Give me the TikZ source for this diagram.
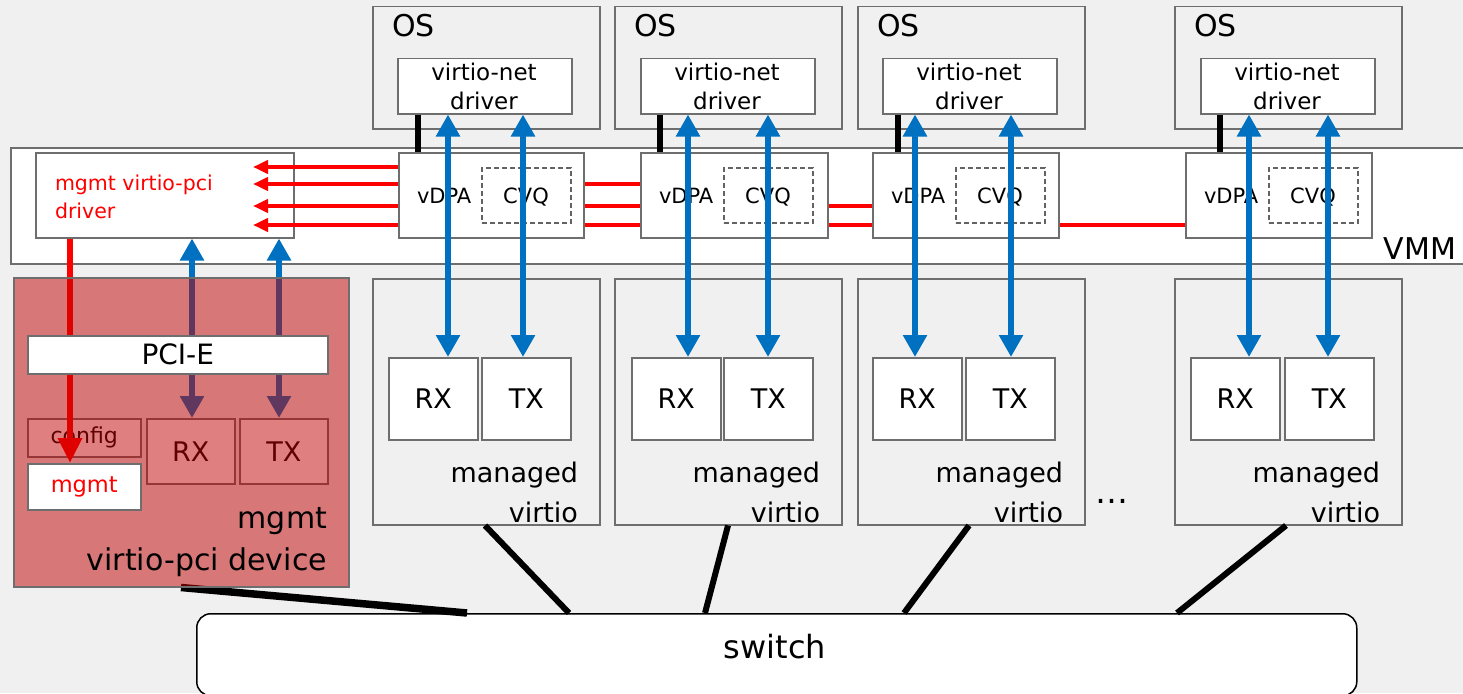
\documentclass[tikz,border=0pt]{standalone}
\usepackage{fontspec}
\setmainfont{DejaVu Sans}
\usetikzlibrary{arrows.meta}

\definecolor{paper}{HTML}{F0F0F0}
\definecolor{frame}{HTML}{6E6E6E}
\definecolor{netblue}{HTML}{0070C0}
\definecolor{ctrlred}{HTML}{FF0000}
\definecolor{devred}{RGB}{192,0,0}

\newcommand\pxfont[1]{\fontsize{#1}{#1}\selectfont}

\pgfdeclarelayer{base}
\pgfdeclarelayer{wires}
\pgfdeclarelayer{veil}
\pgfdeclarelayer{top}
\pgfsetlayers{base,wires,main,veil,top}

\tikzset{
  box/.style={draw=frame, line width=1.5pt, fill=white, inner sep=0pt, anchor=north west},
  graybox/.style={box, fill=paper},
  cvqbox/.style={box, draw=frame!90!black, dash pattern=on 5pt off 3pt, line width=1.5pt},
  txt/.style={inner sep=0pt, outer sep=0pt},
  busarrow/.style={draw=netblue, line width=6.5pt,
    arrows={Triangle[width=23pt,length=22pt]-Triangle[width=23pt,length=22pt]}},
  ctrlwire/.style={draw=ctrlred, line width=4.5pt,
    arrows={-Triangle[width=13pt,length=15pt]}},
  ctrldown/.style={draw=ctrlred, line width=6.5pt,
    arrows={-Triangle[width=23pt,length=25pt]}},
  linkbar/.style={draw=black, line width=6.5pt},
  uplink/.style={draw=black, line width=6pt},
}

\begin{document}
\begin{tikzpicture}[x=1pt,y=-1pt]
\useasboundingbox (0,0) rectangle (1463,693);

\begin{pgfonlayer}{base}
  \fill[paper] (0,0) rectangle (1463,693);
  % hypervisor band
  \node[box, minimum width=1470, minimum height=116] (vmm) at (10,147) {};
  \node[txt, anchor=base east, font=\pxfont{30}] (vmmlbl) at (1456,259) {VMM};
  % management driver inside the VMM
  \node[box, minimum width=258, minimum height=85] (mdrv) at (35,152) {};
  \node[txt, anchor=base west, font=\pxfont{20.5}, text=ctrlred] (mdrva) at (55,190) {mgmt virtio-pci};
  \node[txt, anchor=base west, font=\pxfont{20.5}, text=ctrlred] (mdrvb) at (55,218) {driver};
\end{pgfonlayer}

% guests, vDPA instances and managed virtio devices
\foreach \k/\xo/\xd/\xv/\wv/\xq/\xr/\xt in
  {1/372/397/398/185/481/388/481,
   2/614/640/640/187/723/631/723,
   3/857/882/872/186/955/872/965,
   4/1174/1200/1185/186/1268/1190/1284}{
  \node[graybox, minimum width=227, minimum height=122] (os\k) at (\xo,6) {};
  \node[txt, anchor=base west, font=\pxfont{30}] (osl\k) at (\xo+20,37) {OS};
  \node[box, minimum width=174, minimum height=55] (drv\k) at (\xd,58) {};
  \node[txt, anchor=base, font=\pxfont{23}] (drva\k) at (\xd+87,80) {virtio-net};
  \node[txt, anchor=base, font=\pxfont{23}] (drvb\k) at (\xd+87,109) {driver};
  \node[box, minimum width=\wv, minimum height=85] (vd\k) at (\xv,152) {};
  \node[cvqbox, minimum width=89, minimum height=55] (cq\k) at (\xq,167) {};
  \node[txt, anchor=base west, font=\pxfont{21}] (vdl\k) at (\xv+19,203) {vDPA};
  \node[txt, anchor=base, font=\pxfont{21}] (cql\k) at (\xq+45,203) {CVQ};
  \node[graybox, minimum width=227, minimum height=246] (mv\k) at (\xo,278) {};
  \node[box, minimum width=89, minimum height=82, font=\pxfont{27}] (rx\k) at (\xr,357) {RX};
  \node[box, minimum width=89, minimum height=82, font=\pxfont{27}] (tx\k) at (\xt,357) {TX};
  \node[txt, anchor=base east, font=\pxfont{27}] (mva\k) at (\xo+206,482) {managed};
  \node[txt, anchor=base east, font=\pxfont{27}] (mvb\k) at (\xo+206,522) {virtio};
}
\node[txt, anchor=base, font=\pxfont{33}] (more) at (1112,503) {…};

% switch
\node[box, draw=black, rounded corners=14pt, minimum width=1160, minimum height=82] (sw) at (196,613) {};
\node[txt, font=\pxfont{32}] (swl) at (775,647) {switch};

% control paths from each vDPA into the management driver
\coordinate (tip1) at (253,167);
\coordinate (tip2) at (253,184);
\coordinate (tip3) at (253,206);
\coordinate (tip4) at (253,225);
\begin{pgfonlayer}{wires}
  \draw[ctrlwire] (vd1.west |- tip1) -- (tip1);
  \draw[ctrlwire] (vd2.west |- tip2) -- (tip2);
  \draw[ctrlwire] (vd3.west |- tip3) -- (tip3);
  \draw[ctrlwire] (vd4.west |- tip4) -- (tip4);
\end{pgfonlayer}

% management virtio-pci device
\node[box, minimum width=113, minimum height=38, font=\pxfont{22}] (cfg) at (27,418) {config};
\node[box, minimum width=88, minimum height=65, font=\pxfont{27}] (drx) at (146,418) {RX};
\node[box, minimum width=88, minimum height=65, font=\pxfont{27}] (dtx) at (239,418) {TX};
\begin{pgfonlayer}{veil}
  \node[box, fill=devred, fill opacity=0.5, minimum width=335, minimum height=309] (dev) at (13,277) {};
\end{pgfonlayer}
\begin{pgfonlayer}{top}
  \node[box, minimum width=300, minimum height=38, font=\pxfont{28}] (pcie) at (27,335) {PCI-E};
  \node[box, minimum width=113, minimum height=46, font=\pxfont{22.5}, text=ctrlred] (mg) at (27,463) {mgmt};
  \node[txt, anchor=base east, font=\pxfont{30}] (deva) at (327,528) {mgmt};
  \node[txt, anchor=base east, font=\pxfont{30}] (devb) at (327,570) {virtio-pci device};
\end{pgfonlayer}

\draw[ctrldown] (70,0 |- mdrv.south) -- (70,0 |- mg.north);
\draw[busarrow] (192,0 |- mdrv.south) -- (192,0 |- drx.north);
\draw[busarrow] (279,0 |- mdrv.south) -- (279,0 |- dtx.north);

% guest data paths and vDPA attachment
\foreach \k/\xa/\xb/\xk in {1/448/523/418, 2/688/768/660, 3/915/1011/898, 4/1249/1328/1220}{
  \draw[linkbar] (\xk,0 |- drv\k.south) -- (\xk,0 |- vd\k.north);
  \draw[busarrow] (\xa,0 |- drv\k.south) -- (\xa,0 |- rx\k.north);
  \draw[busarrow] (\xb,0 |- drv\k.south) -- (\xb,0 |- tx\k.north);
}

% uplinks into the switch
\draw[uplink, line width=7.5pt] ([xshift=168pt]dev.south west) -- ([xshift=271pt]sw.north west);
\draw[uplink] ([xshift=113pt]mv1.south west) -- ([xshift=373pt]sw.north west);
\draw[uplink] ([xshift=114pt]mv2.south west) -- ([xshift=509pt]sw.north west);
\draw[uplink] ([xshift=112pt]mv3.south west) -- ([xshift=708pt]sw.north west);
\draw[uplink] ([xshift=112pt]mv4.south west) -- ([xshift=981pt]sw.north west);
\end{tikzpicture}
\end{document}
